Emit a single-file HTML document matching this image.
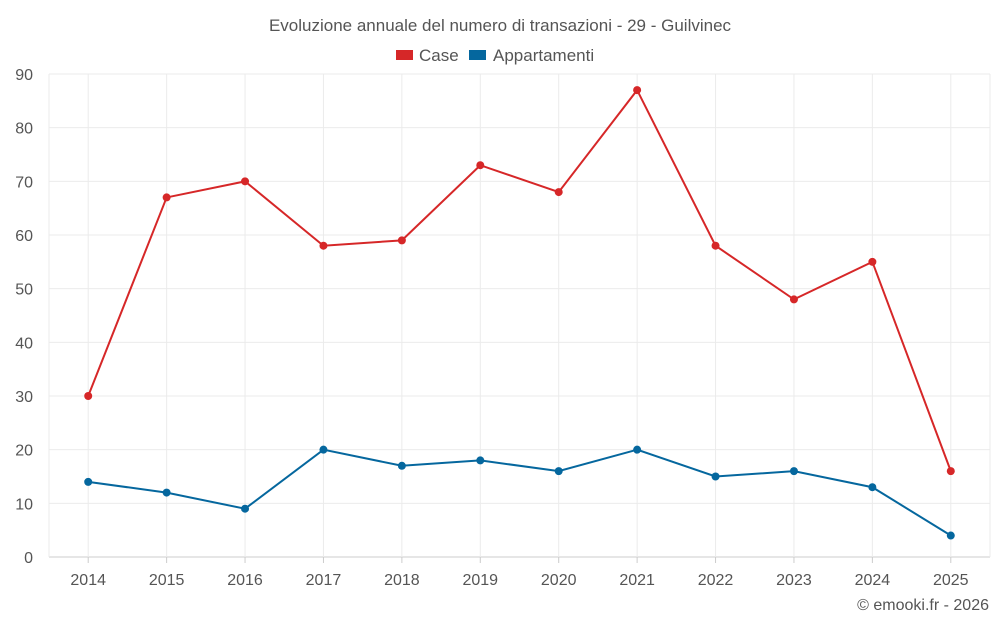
<!DOCTYPE html>
<html><head><meta charset="utf-8"><style>
body{margin:0;background:#fff;font-family:"Liberation Sans",sans-serif;}
svg text{font-family:"Liberation Sans",sans-serif;fill:#555;}
</style></head><body>
<svg id="c" width="1000" height="625">
<text x="500" y="31" text-anchor="middle" font-size="17">Evoluzione annuale del numero di transazioni - 29 - Guilvinec</text>
<g>
<rect x="396" y="50" width="17" height="10" fill="#d62728"></rect>
<text x="419" y="61" font-size="17">Case</text>
<rect x="469" y="50" width="17" height="10" fill="#05679e"></rect>
<text x="493" y="61" font-size="17">Appartamenti</text>
</g>
<g id="grid"></g><g id="axes"></g><g id="series"></g>
<text x="989" y="610" text-anchor="end" font-size="16">© emooki.fr - 2026</text>
</svg>
<script>
const years=["2014","2015","2016","2017","2018","2019","2020","2021","2022","2023","2024","2025"];
const caseVals=[30,67,70,58,59,73,68,87,58,48,55,16];
const appVals=[14,12,9,20,17,18,16,20,15,16,13,4];
const yTicks=[0,10,20,30,40,50,60,70,80,90];
const NS="http://www.w3.org/2000/svg";
const x0=49,x1=990,yTop=74,yBot=557;
const step=(x1-x0)/years.length;
const X=i=>x0+step*(i+0.5);
const Y=v=>yBot-(v/90)*(yBot-yTop);
function mk(t,a,p){const e=document.createElementNS(NS,t);for(const k in a)e.setAttribute(k,a[k]);p.appendChild(e);return e;}
const g=document.getElementById('grid'),ax=document.getElementById('axes'),s=document.getElementById('series');
yTicks.forEach(v=>{
 const l=mk('line',{x1:x0,x2:x1,y1:Y(v),y2:Y(v),stroke:v===0?'#ccc':'#ebebeb','stroke-width':1},g);
 
 
 const t=mk('text',{x:33,y:Y(v)+6,'text-anchor':'end','font-size':16},ax);t.textContent=v;
 
 
});
[x0,x1].forEach(xx=>{const l=mk('line',{x1:xx,x2:xx,y1:yTop,y2:yBot,stroke:'#ebebeb'},g);
 
 });
years.forEach((yr,i)=>{
 const l=mk('line',{x1:X(i),x2:X(i),y1:yTop,y2:yBot,stroke:'#ebebeb'},g);
 
 
 const tk=mk('line',{x1:X(i),x2:X(i),y1:yBot,y2:yBot+6,stroke:'#ccc'},ax);
 
 
 const t=mk('text',{x:X(i),y:585,'text-anchor':'middle','font-size':16},ax);t.textContent=yr;
 
 
});
function series(vals,color,name){
 const p=mk('polyline',{points:vals.map((v,i)=>X(i)+','+Y(v)).join(' '),fill:'none',stroke:color,'stroke-width':2},s);
 
 
 vals.forEach((v,i)=>{const c=mk('circle',{cx:X(i),cy:Y(v),r:4,fill:color},s);
  
  });
}
series(caseVals,'#d62728','case');
series(appVals,'#05679e','appartamenti');
</script>
</body></html>
